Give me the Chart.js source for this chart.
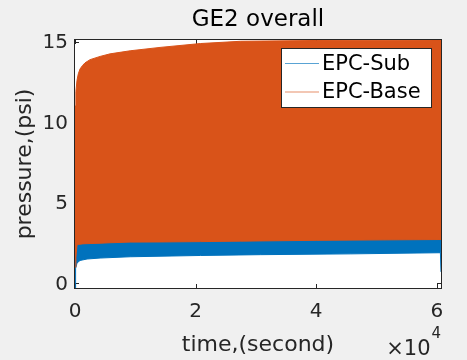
<!DOCTYPE html>
<html>
<head>
<meta charset="utf-8">
<script src="https://cdn.jsdelivr.net/npm/chart.js@4"></script>
<style>
  html, body { margin: 0; padding: 0; background: #f0f0f0; }
  canvas { display: block; }
</style>
</head>
<body>
<canvas id="chart" width="467" height="360"></canvas>
<script>
// Pressure envelopes (min / max of the oscillating signal) over time, seconds
const subTime  = [0, 100, 333, 832, 2000, 4160, 9150, 20800, 30780, 45760, 60600, 60700];
const subLow   = [-0.3, 0.9, 1.25, 1.41, 1.50, 1.56, 1.64, 1.72, 1.77, 1.82, 1.89, 0.7];
const subHigh  = [1.5, 2.0, 2.6, 2.7, 2.8, 2.85, 2.9, 2.95, 2.97, 3.0, 3.0, 3.0];

const baseTime = [0, 150, 333, 550, 832, 1250, 1660, 2500, 4160, 5820, 9150, 14100, 20800, 27450, 40000, 60700];
const baseLow  = [1.0, 1.6, 2.38, 2.40, 2.42, 2.44, 2.45, 2.46, 2.48, 2.51, 2.55, 2.56, 2.58, 2.61, 2.66, 2.71];
const baseHigh = [11.0, 11.9, 12.6, 13.0, 13.3, 13.52, 13.68, 13.88, 14.08, 14.24, 14.43, 14.64, 14.88, 15.02, 15.07, 15.1];

const seriesNames  = ['EPC-Sub', 'EPC-Base'];
const seriesColors = ['#0072BD', '#D95319'];

const xTickValues = [0, 20000, 40000, 60000];
const xTickLabels = ['0', '2', '4', '6'];
const yTickValues = [0, 5, 10, 15];
const yTickLabels = ['0', '5', '10', '15'];

const FONT = "'DejaVu Sans', sans-serif";
const AXIS_COLOR = '#262626';

const pts = (xs, ys) => xs.map((x, i) => ({ x, y: ys[i] }));

function band(label, color, xs, hi, lo, order) {
  return [
    { label, data: pts(xs, hi), borderColor: color, backgroundColor: color,
      borderWidth: 1, pointRadius: 0, fill: '+1', order, tension: 0 },
    { label: label + ' min', data: pts(xs, lo), borderColor: color, backgroundColor: color,
      borderWidth: 1, pointRadius: 0, fill: false, order, tension: 0, envelope: true }
  ];
}

// Axes box with inward tick marks, drawn underneath the data
const axesBox = {
  id: 'axesBox',
  beforeDatasetsDraw(chart) {
    const { ctx, chartArea: a, scales } = chart;
    ctx.save();
    ctx.fillStyle = '#ffffff';
    ctx.fillRect(a.left, a.top, a.right - a.left, a.bottom - a.top);
    ctx.strokeStyle = AXIS_COLOR;
    ctx.lineWidth = 1;
    ctx.strokeRect(a.left - 0.5, a.top - 0.5, a.right - a.left + 1, a.bottom - a.top + 1);
    const len = 4;
    ctx.beginPath();
    scales.x.ticks.forEach(t => {
      const px = Math.round(scales.x.getPixelForValue(t.value)) + 0.5;
      ctx.moveTo(px, a.bottom); ctx.lineTo(px, a.bottom - len);
      ctx.moveTo(px, a.top);    ctx.lineTo(px, a.top + len);
    });
    scales.y.ticks.forEach(t => {
      const py = Math.round(scales.y.getPixelForValue(t.value)) + 0.5;
      ctx.moveTo(a.left, py);  ctx.lineTo(a.left + len, py);
      ctx.moveTo(a.right, py); ctx.lineTo(a.right - len, py);
    });
    ctx.stroke();
    ctx.restore();
  }
};

// Legend box in the upper right of the axes, plus the x-axis exponent label
const overlay = {
  id: 'overlay',
  afterDraw(chart) {
    const { ctx, chartArea: a } = chart;
    ctx.save();
    const bx = 282, by = 48, bw = 150, bh = 59;
    ctx.fillStyle = '#ffffff';
    ctx.fillRect(bx, by, bw, bh);
    ctx.strokeStyle = AXIS_COLOR;
    ctx.lineWidth = 1;
    ctx.strokeRect(bx - 0.5, by + 0.5, bw, bh);
    const entries = chart.data.datasets.filter(d => !d.envelope);
    const order = seriesNames.map(n => entries.find(d => d.label === n));
    order.forEach((d, i) => {
      const y = 63.5 + i * 28.5;
      ctx.globalAlpha = 0.65;
      ctx.strokeStyle = d.borderColor;
      ctx.lineWidth = 1;
      ctx.beginPath(); ctx.moveTo(285, y); ctx.lineTo(319, y); ctx.stroke();
      ctx.globalAlpha = 1;
      ctx.fillStyle = '#000000';
      ctx.font = '21px ' + FONT;
      ctx.textAlign = 'left';
      ctx.textBaseline = 'middle';
      ctx.fillText(d.label, 322, y + 1);
    });
    // exponent of the x axis
    ctx.fillStyle = AXIS_COLOR;
    ctx.textBaseline = 'alphabetic';
    ctx.textAlign = 'right';
    ctx.font = '15px ' + FONT;
    ctx.fillText('4', a.right, 338);
    ctx.font = '21px ' + FONT;
    ctx.fillText('\u00d710', a.right - 10.5, 355);
    ctx.restore();
  }
};

const datasets = [
  ...band(seriesNames[1], seriesColors[1], baseTime, baseHigh, baseLow, 0),
  ...band(seriesNames[0], seriesColors[0], subTime, subHigh, subLow, 1)
];

new Chart(document.getElementById('chart'), {
  type: 'line',
  data: { datasets },
  options: {
    responsive: false,
    animation: false,
    devicePixelRatio: 1,
    parsing: false,
    layout: { padding: { left: 0, right: 26, top: 0, bottom: 0 } },
    plugins: {
      legend: { display: false },
      tooltip: { enabled: false },
      title: {
        display: true,
        fullSize: false,
        text: 'GE2 overall',
        color: '#000000',
        font: { family: FONT, size: 23, weight: 'normal', lineHeight: 1.2 },
        padding: { top: 6.6, bottom: 5.8 }
      }
    },
    scales: {
      x: {
        type: 'linear',
        position: 'bottom',
        min: 0,
        max: 60700,
        grid: { display: false, drawTicks: false },
        border: { display: false },
        afterBuildTicks: s => { s.ticks = xTickValues.map(v => ({ value: v })); },
        afterFit: s => { s.height = 72; },
        ticks: {
          padding: 12,
          color: AXIS_COLOR,
          maxRotation: 0,
          font: { family: FONT, size: 20 },
          callback: (v) => xTickLabels[xTickValues.indexOf(v)]
        },
        title: {
          display: true,
          text: 'time,(second)',
          color: AXIS_COLOR,
          font: { family: FONT, size: 22, lineHeight: 1.2 },
          padding: { top: 0, bottom: 1.5 }
        }
      },
      y: {
        type: 'linear',
        position: 'left',
        min: -0.3,
        max: 15.1,
        grid: { display: false, drawTicks: false },
        border: { display: false },
        afterBuildTicks: s => { s.ticks = yTickValues.map(v => ({ value: v })); },
        afterFit: s => { s.width = 75; },
        ticks: {
          padding: 7,
          labelOffset: 1.5,
          color: AXIS_COLOR,
          font: { family: FONT, size: 20 },
          callback: (v) => yTickLabels[yTickValues.indexOf(v)]
        },
        title: {
          display: true,
          text: 'pressure,(psi)',
          color: AXIS_COLOR,
          font: { family: FONT, size: 22, lineHeight: 1.2 },
          padding: { top: 12, bottom: 0 }
        }
      }
    }
  },
  plugins: [axesBox, overlay]
});
</script>
</body>
</html>
